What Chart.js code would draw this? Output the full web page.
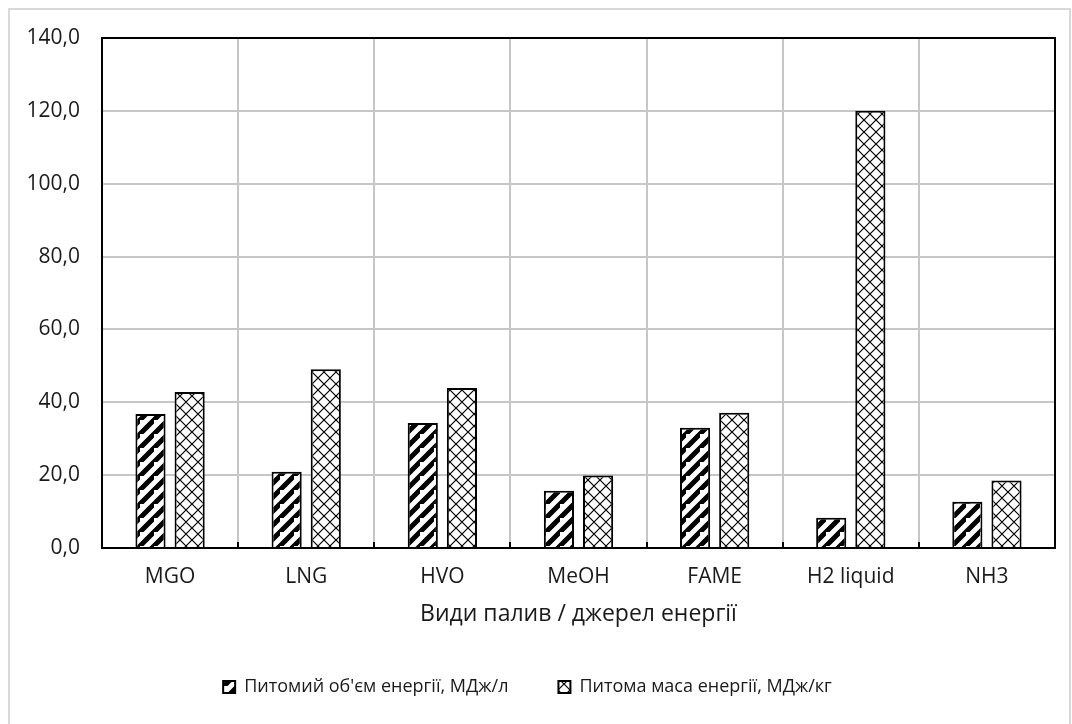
<!DOCTYPE html>
<html><head><meta charset="utf-8">
<script src="https://cdn.jsdelivr.net/npm/chart.js@4.4.1/dist/chart.umd.min.js"></script>
<style>
html,body{margin:0;padding:0;background:#fff;overflow:hidden;}
#frame{position:absolute;left:8px;top:8px;width:1063px;height:740px;border:2px solid #d9d9d9;box-sizing:border-box;}
#wrap{position:absolute;left:0;top:0;width:1072px;height:724px;}
</style></head><body>
<div id="frame"></div>
<div id="wrap"><canvas id="c" width="1072" height="724"></canvas></div>
<script>
const categories = ['MGO', 'LNG', 'HVO', 'MeOH', 'FAME', 'H2 liquid', 'NH3'];
const volumeEnergy = [36.8, 20.9, 34.3, 15.7, 33.0, 8.3, 12.7];
const massEnergy = [42.8, 49.1, 43.9, 19.9, 37.1, 120.0, 18.5];
const seriesNames = ["Питомий об'єм енергії, МДж/л", "Питома маса енергії, МДж/кг"];
const yMin = 0, yMax = 140, yStep = 20;
const xTitle = 'Види палив / джерел енергії';

const FONT = "'Open Sans', 'Noto Sans', sans-serif";
const TXT = '#1a1a1a';

function stripePattern() {
  const s = 14;
  const c = document.createElement('canvas');
  c.width = s; c.height = s;
  const g = c.getContext('2d');
  g.fillStyle = '#fff'; g.fillRect(0, 0, s, s);
  g.strokeStyle = '#000'; g.lineWidth = 5; g.lineCap = 'square';
  g.beginPath();
  g.moveTo(-s, s * 2); g.lineTo(s * 2, -s);
  g.moveTo(-s * 2, s); g.lineTo(s, -s * 2);
  g.moveTo(0, s * 2); g.lineTo(s * 2, 0);
  g.stroke();
  return g.createPattern(c, 'repeat');
}
function diamondPattern() {
  const s = 12;
  const c = document.createElement('canvas');
  c.width = s; c.height = s;
  const g = c.getContext('2d');
  g.fillStyle = '#fff'; g.fillRect(0, 0, s, s);
  g.strokeStyle = '#000'; g.lineWidth = 1.2;
  g.beginPath();
  g.moveTo(0, 0); g.lineTo(s, s);
  g.moveTo(s, 0); g.lineTo(0, s);
  g.stroke();
  return g.createPattern(c, 'repeat');
}

const plotFrame = {
  id: 'plotFrame',
  afterDatasetsDraw(chart) {
    const { ctx, chartArea: a, scales } = chart;
    ctx.save();
    ctx.strokeStyle = '#000';
    ctx.lineWidth = 2;
    ctx.strokeRect(a.left, a.top, a.right - a.left, a.bottom - a.top);
    const xs = scales.x;
    ctx.beginPath();
    for (let i = 1; i < categories.length; i++) {
      const px = (xs.getPixelForValue(i - 1) + xs.getPixelForValue(i)) / 2;
      ctx.moveTo(Math.round(px), a.bottom);
      ctx.lineTo(Math.round(px), a.bottom - 6);
    }
    ctx.stroke();
    ctx.restore();
  }
};

new Chart(document.getElementById('c'), {
  type: 'bar',
  data: {
    labels: categories,
    datasets: [
      { label: seriesNames[0], data: volumeEnergy, backgroundColor: stripePattern(), borderColor: '#000', borderWidth: 2 },
      { label: seriesNames[1], data: massEnergy, backgroundColor: diamondPattern(), borderColor: '#000', borderWidth: 2 }
    ]
  },
  options: {
    responsive: false,
    animation: false,
    devicePixelRatio: 1,
    layout: { padding: { top: 38, right: 17, left: 0, bottom: 18 } },
    datasets: { bar: { categoryPercentage: 0.575, barPercentage: 0.77 } },
    plugins: {
      tooltip: { enabled: false },
      legend: {
        position: 'bottom',
        labels: {
          font: { family: FONT, size: 18 },
          color: TXT,
          boxWidth: 12, boxHeight: 12,
          padding: 50
        }
      }
    },
    scales: {
      x: {
        grid: { color: '#c6c6c6', lineWidth: 2, offset: true, drawTicks: false },
        border: { display: false },
        ticks: { font: { family: FONT, size: 21 }, color: TXT, padding: 16 },
        title: { display: true, text: xTitle, font: { family: FONT, size: 23 }, color: TXT, padding: { top: 0, bottom: 0 } },
        afterFit(s) { s.height = 80; }
      },
      y: {
        min: yMin, max: yMax,
        grid: { color: '#c6c6c6', lineWidth: 2, drawTicks: false },
        border: { display: false },
        ticks: {
          stepSize: yStep,
          font: { family: FONT, size: 21 }, color: TXT, padding: 22,
          callback: v => v.toFixed(1).replace('.', ',')
        },
        afterFit(s) { s.width = 102; }
      }
    }
  },
  plugins: [plotFrame]
});
</script>
</body></html>
